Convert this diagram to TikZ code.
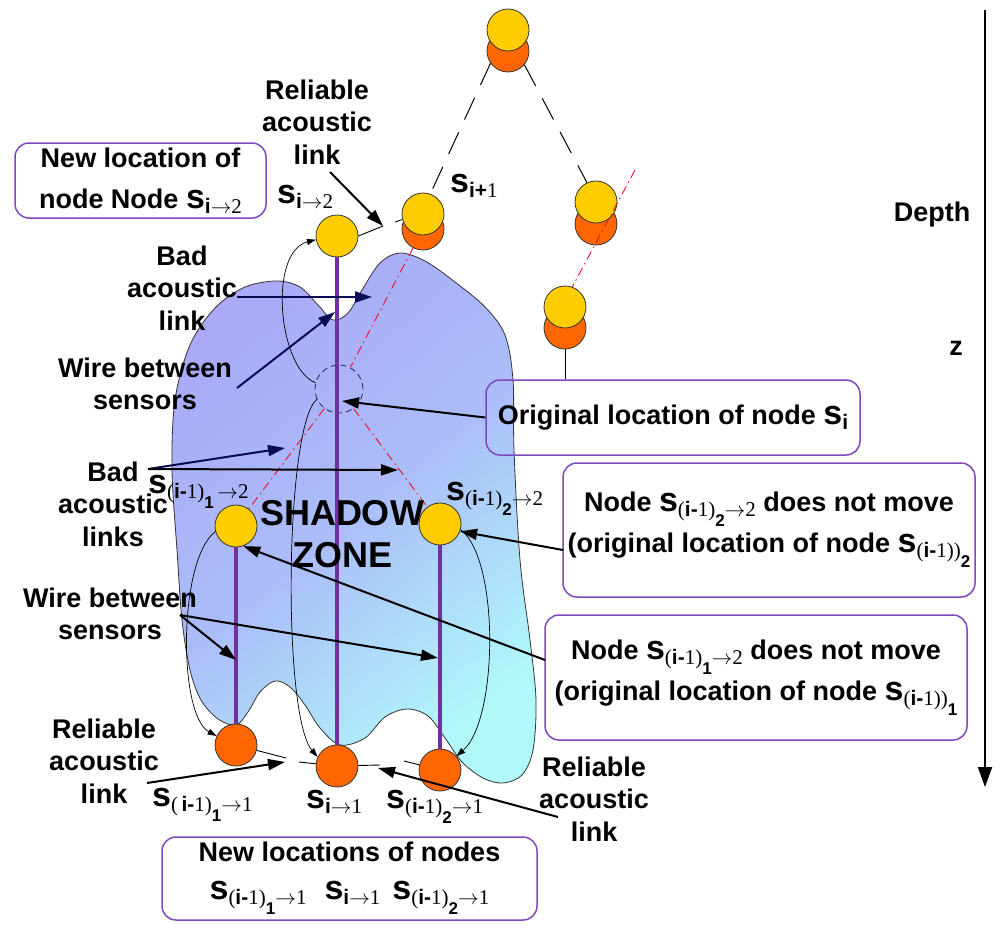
\documentclass[tikz,border=0pt]{standalone}
\usepackage{fontspec}
\setmainfont{Liberation Sans}
\newfontfamily\serifface{Liberation Serif}
\usetikzlibrary{arrows.meta}
\definecolor{ynode}{HTML}{FFCC00}
\definecolor{onode}{HTML}{FF6600}
\definecolor{wirec}{HTML}{7030A0}
\definecolor{boxc}{HTML}{8048C0}
\definecolor{lav}{HTML}{AAAAF8}
\definecolor{cyanz}{HTML}{B0F8FA}
\definecolor{navyc}{HTML}{0A0A55}
\definecolor{redl}{HTML}{E8102A}
\definecolor{dcirc}{HTML}{33335F}
\newcommand{\Sb}{{\fontsize{34}{34}\selectfont\bfseries s}}
\newcommand{\SubT}[1]{\raisebox{-5pt}{\fontsize{21}{21}\selectfont #1}}
\newcommand{\SubS}[1]{\raisebox{-10pt}{\fontsize{17}{17}\selectfont\bfseries #1}}
\newcommand{\sr}[1]{{\serifface\mdseries #1}}
\newcommand{\rarr}{\ensuremath{\rightarrow}}
\begin{document}
\begin{tikzpicture}[x=1pt,y=-1pt,
  every node/.style={font=\fontsize{27}{32.5}\selectfont\bfseries},
  ynd/.style={circle, draw=black!80, fill=ynode, minimum size=42pt, inner sep=0pt, line width=0.8pt},
  ond/.style={circle, draw=black!80, fill=onode, minimum size=42pt, inner sep=0pt, line width=0.8pt},
  wire/.style={draw=wirec, line width=4pt},
  redline/.style={draw=redl, line width=0.9pt, dash pattern=on 9pt off 4pt on 1.5pt off 4pt},
  ldash/.style={draw=black, line width=1pt, dash pattern=on 24pt off 14pt},
  lnk/.style={draw=black, line width=0.9pt},
  mv/.style={draw=black, line width=0.7pt, -{Triangle[length=9pt,width=6pt]}},
  larrow/.style={line width=2pt, -{Triangle[length=17pt,width=11pt]}},
  lbl/.style={inner sep=0pt, align=center},
  boxn/.style={draw=boxc, line width=1.5pt, rounded corners=14pt, inner sep=0pt, align=center, font=\fontsize{27}{41}\selectfont\bfseries},
  slab/.style={inner sep=0pt, anchor=base west}
]
\useasboundingbox (0,0) rectangle (1000,939);

% shadow zone
\shadedraw[top color=lav, bottom color=cyanz, middle color=lav!75!cyanz, shading angle=40, draw=black!80, line width=0.8pt]
  plot[smooth cycle, tension=0.55] coordinates {
  (172,470) (175,400) (190,345) (215,308) (245,287) (277,281) (300,287) (318,305)
  (333,320) (348,313) (362,290) (380,263) (400,253) (425,261) (455,282) (485,307)
  (505,335) (513,380) (514,450) (520,560) (530,640) (536,700) (533,750) (522,775)
  (503,783) (483,778) (462,762) (445,738) (428,716) (407,709) (385,717) (365,738)
  (340,745) (320,728) (305,705) (290,687) (275,681) (260,692) (248,712) (236,725)
  (218,719) (201,700) (190,670) (182,620) (177,550)};

% sensor nodes
\node[ond] (topO) at (508,51) {};
\node[ynd] (topY) at (508,30) {};
\node[ond] (sipO) at (423,229) {};
\node[ynd] (sipY) at (423,214) {};
\node[ond] (ruO) at (596,224) {};
\node[ynd] (ruY) at (596,202) {};
\node[ond] (rlO) at (565,328) {};
\node[ynd] (rlY) at (565,307) {};
\node[ynd] (si2) at (337,236) {};
\node[ynd] (a2) at (236,526) {};
\node[ynd] (b2) at (440,524) {};
\node[ond] (a1) at (236,745) {};
\node[ond] (si1) at (337,766) {};
\node[ond] (b1) at (440,770) {};
\node[circle, draw=dcirc, line width=0.9pt, dash pattern=on 6pt off 4pt, minimum size=48pt, inner sep=0pt] (orig) at (339,389) {};

% wires between sensors
\draw[wire] (si2) -- (si1);
\draw[wire] (a2) -- (a1);
\draw[wire] (b2) -- (b1);

% bad acoustic links (red)
\coordinate (rtop) at (635,170);
\draw[redline] (sipO) -- (orig);
\draw[redline] (orig) -- (a2);
\draw[redline] (orig) -- (b2);
\draw[redline] (rtop) -- (rlY.70);

% cable (dashed)
\draw[ldash] (topO.215) -- (sipY.70);
\draw[ldash] (topO.320) -- (ruY.115);

% reliable links
\coordinate (lkT) at (383,226);
\coordinate (lkT2) at (395,222);
\draw[lnk] (si2.0) -- (lkT);
\draw[lnk] (lkT2) -- (sipY.195);
\coordinate (lkA) at (286,758);
\coordinate (lkB) at (299,762);
\coordinate (lkC) at (380,765);
\coordinate (lkD) at (404,761);
\draw[lnk] (a1) -- (lkA);
\draw[lnk] (lkB) -- (si1);
\draw[lnk] (si1) -- (lkC);
\draw[lnk] (lkD) -- (b1);

% movement curves
\draw[mv] (orig.165) .. controls (278,368) and (268,252) .. (si2.190);
\draw[mv] (orig.205) .. controls (285,425) and (282,715) .. (si1.155);
\draw[mv] (a2.195) .. controls (178,560) and (178,715) .. (a1.155);
\draw[mv] (b2.-15) .. controls (500,560) and (498,720) .. (b1.40);

% box of original location and its thin line
\node[boxn, minimum width=374pt, minimum height=75pt] (origBox) at (673,417.5) {Original location of node \Sb\SubT{i}};
\draw[line width=0.8pt] (rlO) -- (rlO |- origBox.north);

% other boxes
\node[boxn, minimum width=251pt, minimum height=75pt] (box1) at (140.5,180.5) {New location of\\node Node \Sb\SubT{i\sr{\rarr2}}};
\node[boxn, minimum width=412pt, minimum height=134pt] (box2) at (769,530) {Node \Sb\SubT{\sr{(}i-\sr{1)}\SubS{2}\sr{\rarr2}} does not move\\(original location of node \Sb\SubT{\sr{(}i-\sr{1))}\SubS{2}}};
\node[boxn, minimum width=422pt, minimum height=125pt] (box3) at (756,677.5) {Node \Sb\SubT{\sr{(}i-\sr{1)}\SubS{1}\sr{\rarr2}} does not move\\(original location of node \Sb\SubT{\sr{(}i-\sr{1))}\SubS{1}}};
\node[boxn, minimum width=375pt, minimum height=83pt] (box4) at (349.5,878.5) {New locations of nodes\\[-3pt]\Sb\SubT{\sr{(}i-\sr{1)}\SubS{1}\sr{\rarr1}}\hspace{18pt}\Sb\SubT{i\sr{\rarr1}}\hspace{12pt}\Sb\SubT{\sr{(}i-\sr{1)}\SubS{2}\sr{\rarr1}}};

% labels
\node[lbl] (relT) at (317,122) {Reliable\\acoustic\\link};
\node[lbl] (badT) at (182,288) {Bad\\acoustic\\link};
\node[lbl] (wireT) at (145,384) {Wire between\\sensors};
\node[lbl] (badL) at (113,504) {Bad\\acoustic\\links};
\node[lbl] (wireL) at (110,614) {Wire between\\sensors};
\node[lbl] (relL) at (104,761) {Reliable\\acoustic\\link};
\node[lbl] (relR) at (594,799) {Reliable\\acoustic\\link};
\node[lbl] (depth) at (932,215) {Depth};
\node[lbl] (zlab) at (956,348) {z};
\node[lbl, font=\fontsize{36}{42}\selectfont\bfseries] (shadow) at (342,534) {SHADOW\\ZONE};

% sensor labels
\node[slab] (lsi2) at (277,203) {\Sb\SubT{i\sr{\rarr2}}};
\node[slab] (lsip) at (450,192) {\Sb\SubT{i+\sr{1}}};
\node[slab] (la2) at (148,493) {\Sb\SubT{\sr{(}i-\sr{1)}\SubS{1}\sr{\,\rarr2}}};
\node[slab] (lb2) at (446,500) {\Sb\SubT{\sr{(}i-\sr{1)}\SubS{2}\sr{\rarr2}}};
\node[slab] (la1) at (152,806) {\Sb\SubT{\sr{(\,}i-\sr{1)}\SubS{1}\sr{\rarr1}}};
\node[slab] (lsi1) at (306,808) {\Sb\SubT{i\sr{\rarr1}}};
\node[slab] (lb1) at (386,808) {\Sb\SubT{\sr{(}i-\sr{1)}\SubS{2}\sr{\rarr1}}};

% label arrows
\coordinate (pA1) at (330,172);
\draw[larrow] (pA1) -- (lkT);
\coordinate (pA2s) at (237,297); \coordinate (pA2e) at (372,297);
\draw[larrow, draw=navyc] (pA2s) -- (pA2e);
\coordinate (pA3s) at (237,388); \coordinate (pA3e) at (335,312);
\draw[larrow, draw=navyc] (pA3s) -- (pA3e);
\coordinate (pA4e) at (342,401);
\draw[larrow] (origBox.west) -- (pA4e);
\coordinate (pBs) at (148,469);
\coordinate (pB1) at (285,448); \coordinate (pB2) at (398,470);
\draw[larrow, draw=navyc] (pBs) -- (pB1);
\draw[larrow] (pBs) -- (pB2);
\coordinate (pA7) at (563,550);
\draw[larrow] (pA7) -- (b2.-20);
\coordinate (pA8) at (545,660);
\draw[larrow] (pA8) -- (a2.-70);
\coordinate (pWs) at (180,615);
\coordinate (pW1) at (236,660); \coordinate (pW2) at (438,658);
\draw[larrow] (pWs) -- (pW1);
\draw[larrow] (pWs) -- (pW2);
\coordinate (pL1s) at (147,783); \coordinate (pL1e) at (285,762);
\draw[larrow] (pL1s) -- (pL1e);
\coordinate (pR1s) at (558,817); \coordinate (pR1e) at (378,768);
\draw[larrow] (pR1s) -- (pR1e);

% depth axis
\coordinate (axT) at (985,10); \coordinate (axB) at (985,787);
\draw[line width=2pt, -{Triangle[length=20pt,width=14pt]}] (axT) -- (axB);
\end{tikzpicture}
\end{document}
